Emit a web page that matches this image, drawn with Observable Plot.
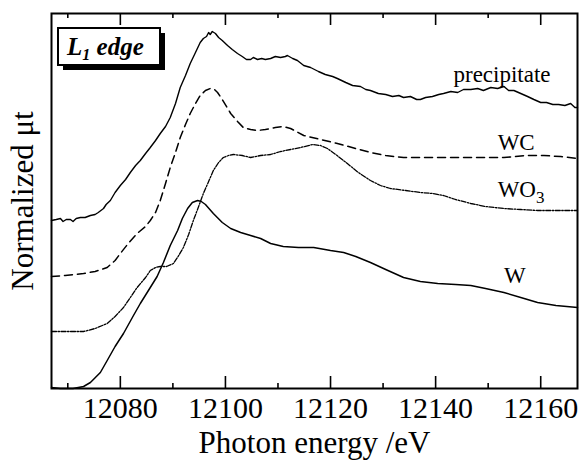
<!DOCTYPE html>
<html><head><meta charset="utf-8">
<script src="https://cdn.jsdelivr.net/npm/d3@7"></script>
<script src="https://cdn.jsdelivr.net/npm/@observablehq/plot@0.6"></script>
<style>body{margin:0;background:#fff} #chart{width:581px}</style>
</head><body><div id="chart"></div>
<script>
// Tick values (photon energy, eV)
const xTicksMajor = [12080, 12100, 12120, 12140, 12160];
const xTicksMinor = [12070, 12090, 12110, 12130, 12150];

// precipitate
const precipE = [12066.9,12067.8,12068.6,12069.1,12069.7,12070.5,12071.0,12071.6,12072.4,12073.3,12074.3,12075.2,12075.8,12076.8,12077.3,12078.1,12079.0,12080.0,12081.0,12081.9,12082.9,12083.8,12084.8,12085.7,12086.7,12087.6,12088.6,12089.5,12090.5,12091.4,12092.4,12093.3,12094.3,12095.2,12095.8,12096.4,12096.8,12097.1,12097.5,12098.1,12098.7,12099.4,12100.4,12101.3,12102.3,12103.2,12104.0,12104.8,12105.3,12106.1,12106.9,12107.6,12108.6,12109.5,12110.5,12111.4,12111.8,12112.8,12113.7,12114.9,12116.2,12117.7,12119.0,12120.4,12121.3,12122.9,12124.2,12125.7,12126.7,12127.6,12129.1,12130.5,12131.8,12133.0,12133.9,12135.2,12136.4,12137.1,12138.1,12139.4,12140.6,12141.5,12142.9,12144.2,12145.3,12146.7,12148.0,12149.1,12150.5,12151.8,12153.0,12153.9,12154.9,12156.2,12157.5,12158.7,12160.0,12161.1,12162.3,12163.4,12164.6,12165.7,12166.5,12167.0];
const precipMu = [1.68,1.69,1.70,1.67,1.69,1.69,1.67,1.70,1.71,1.71,1.73,1.74,1.76,1.80,1.84,1.88,1.96,2.03,2.09,2.16,2.23,2.28,2.35,2.41,2.48,2.55,2.62,2.71,2.85,3.01,3.13,3.25,3.36,3.46,3.50,3.52,3.56,3.54,3.57,3.55,3.51,3.48,3.43,3.39,3.35,3.32,3.29,3.29,3.31,3.29,3.30,3.29,3.30,3.32,3.31,3.32,3.33,3.30,3.28,3.23,3.21,3.17,3.14,3.12,3.10,3.06,3.03,3.02,2.99,2.98,2.95,2.94,2.92,2.93,2.91,2.92,2.89,2.89,2.91,2.92,2.94,2.95,2.97,2.96,2.99,2.99,3.00,2.98,3.01,3.00,3.02,2.98,2.98,2.95,2.92,2.89,2.86,2.86,2.84,2.84,2.83,2.85,2.81,2.81];

// WC
const wcE = [12066.9,12069.5,12073.0,12075.2,12077.5,12079.0,12080.0,12081.5,12083.2,12084.8,12085.7,12086.7,12087.6,12088.6,12089.5,12090.5,12091.4,12092.4,12093.3,12094.3,12095.2,12096.2,12097.1,12097.9,12098.5,12099.4,12101.0,12102.3,12103.4,12104.8,12106.1,12107.6,12109.5,12111.0,12112.4,12114.9,12118.1,12121.3,12124.8,12127.6,12130.5,12133.9,12140.4,12146.7,12153.0,12157.1,12160.6,12163.8,12167.0];
const wcMu = [1.12,1.13,1.15,1.17,1.21,1.28,1.35,1.45,1.55,1.62,1.68,1.76,1.88,2.05,2.21,2.36,2.51,2.64,2.75,2.85,2.93,2.98,3.00,2.99,2.96,2.89,2.75,2.67,2.61,2.59,2.58,2.59,2.61,2.62,2.60,2.53,2.49,2.45,2.40,2.36,2.33,2.31,2.31,2.31,2.31,2.33,2.33,2.32,2.30];

// WO3
const wo3E = [12066.9,12070.5,12073.0,12075.2,12077.5,12079.0,12080.6,12081.9,12083.2,12084.8,12085.7,12086.7,12087.6,12088.8,12090.1,12091.0,12092.0,12093.0,12093.9,12094.9,12095.8,12096.8,12097.7,12098.7,12099.6,12100.6,12101.5,12103.2,12104.8,12106.7,12108.6,12110.5,12112.4,12114.3,12116.6,12118.1,12119.4,12121.0,12123.2,12125.3,12127.6,12129.5,12131.4,12134.3,12137.1,12139.4,12141.5,12143.8,12146.7,12149.5,12153.0,12156.2,12159.4,12167.0];
const wo3Mu = [0.57,0.57,0.57,0.60,0.65,0.72,0.81,0.91,1.01,1.11,1.18,1.21,1.22,1.22,1.25,1.32,1.41,1.54,1.68,1.82,1.95,2.07,2.18,2.26,2.31,2.33,2.34,2.33,2.31,2.33,2.34,2.37,2.39,2.41,2.44,2.43,2.40,2.34,2.25,2.16,2.08,2.03,2.00,1.98,1.96,1.95,1.93,1.89,1.85,1.82,1.80,1.79,1.78,1.78];

// W
const wE = [12066.9,12068.6,12071.0,12073.0,12074.3,12076.2,12077.5,12079.0,12080.6,12082.5,12083.8,12085.7,12087.0,12088.2,12089.5,12090.9,12091.8,12092.8,12093.7,12094.7,12095.4,12096.2,12097.7,12099.4,12101.0,12102.9,12104.8,12106.7,12108.6,12111.0,12113.9,12116.8,12120.0,12122.5,12124.8,12127.6,12130.5,12133.9,12137.1,12140.4,12143.8,12146.7,12149.5,12153.0,12156.2,12159.4,12162.9,12167.0];
const wMu = [0.01,0.00,0.00,0.02,0.06,0.16,0.28,0.42,0.55,0.73,0.85,1.01,1.12,1.26,1.43,1.58,1.70,1.80,1.86,1.88,1.87,1.84,1.75,1.66,1.60,1.56,1.53,1.50,1.45,1.42,1.41,1.41,1.38,1.36,1.32,1.26,1.19,1.11,1.07,1.05,1.04,1.03,1.00,0.96,0.91,0.86,0.83,0.81];

// Curve labels
const labelNames = ["precipitate", "WC", "WO3", "W"];
const labelE = [12143.4, 12151.8, 12151.8, 12153.0];
const labelMu = [3.14, 2.46, 1.99, 1.13];

const toRows = (E, M) => E.map((e, i) => ({E: e, mu: M[i]}));
const labels = labelNames.map((n, i) => ({name: n, E: labelE[i], mu: labelMu[i]}));

const FONT = "'Liberation Serif', 'Times New Roman', Times, serif";

const svg = Plot.plot({
  width: 581, height: 460,
  marginLeft: 51, marginRight: 4, marginTop: 13, marginBottom: 72,
  style: {fontFamily: FONT, background: "#fff", color: "#000"},
  x: {domain: [12066.9, 12167.0]},
  y: {domain: [0, 3.75], axis: null},
  marks: [
    Plot.line(toRows(precipE, precipMu), {x: "E", y: "mu", stroke: "#000", strokeWidth: 1.4}),
    Plot.line(toRows(wcE, wcMu), {x: "E", y: "mu", stroke: "#000", strokeWidth: 1.5, strokeDasharray: "8,5"}),
    Plot.line(toRows(wo3E, wo3Mu), {x: "E", y: "mu", stroke: "#000", strokeWidth: 1.3, strokeDasharray: "5,1.5,1.5,1.5"}),
    Plot.line(toRows(wE, wMu), {x: "E", y: "mu", stroke: "#000", strokeWidth: 1.5}),
    Plot.text(labels, {x: "E", y: "mu", text: "name", textAnchor: "start", lineAnchor: "middle", fontSize: 23, fill: "#000", fontFamily: FONT}),
    Plot.ruleX(xTicksMajor, {x: d => d, y1: 0, y2: 0, insetTop: -12, strokeWidth: 1.6}),
    Plot.ruleX(xTicksMinor, {x: d => d, y1: 0, y2: 0, insetTop: -5, strokeWidth: 1.6}),
    Plot.ruleX(xTicksMajor, {x: d => d, y1: 3.75, y2: 3.75, insetBottom: -12, strokeWidth: 1.6}),
    Plot.ruleX(xTicksMinor, {x: d => d, y1: 3.75, y2: 3.75, insetBottom: -5, strokeWidth: 1.6}),
    Plot.axisX(xTicksMajor, {anchor: "bottom", tickSize: 0, tickPadding: 8.5, fontSize: 30, label: null, tickFormat: d => String(d), fontFamily: FONT}),
    Plot.text(["Photon energy /eV"], {frameAnchor: "bottom", textAnchor: "middle", lineAnchor: "middle", dy: 55, fontSize: 31, fontFamily: FONT}),
    Plot.text(["Normalized μt"], {frameAnchor: "left", textAnchor: "middle", lineAnchor: "middle", rotate: -90, dx: -28, fontSize: 31, fontFamily: FONT}),
    Plot.frame({stroke: "#000", strokeWidth: 2})
  ]
});

// subscript 3 in WO3
d3.select(svg).selectAll("text").each(function() {
  if (this.textContent === "WO3") {
    const t = d3.select(this);
    t.text("WO");
    t.append("tspan").attr("dy", 6).attr("font-size", 17).text("3");
  }
});

// "L1 edge" boxed annotation with drop shadow
const g = d3.select(svg).append("g");
g.append("rect").attr("x", 63).attr("y", 33).attr("width", 102).attr("height", 37).attr("fill", "#000");
g.append("rect").attr("x", 58).attr("y", 28).attr("width", 102).attr("height", 37)
  .attr("fill", "#fff").attr("stroke", "#000").attr("stroke-width", 2);
const lt = g.append("text").attr("x", 67).attr("y", 55).attr("text-anchor", "start")
  .attr("font-family", FONT).attr("font-size", 25).attr("font-weight", "bold").attr("font-style", "italic").attr("fill", "#000");
lt.append("tspan").text("L");
lt.append("tspan").attr("dy", 5).attr("font-size", 16).text("1");
lt.append("tspan").attr("dy", -5).text(" edge");

document.getElementById("chart").appendChild(svg);
</script>
</body></html>
